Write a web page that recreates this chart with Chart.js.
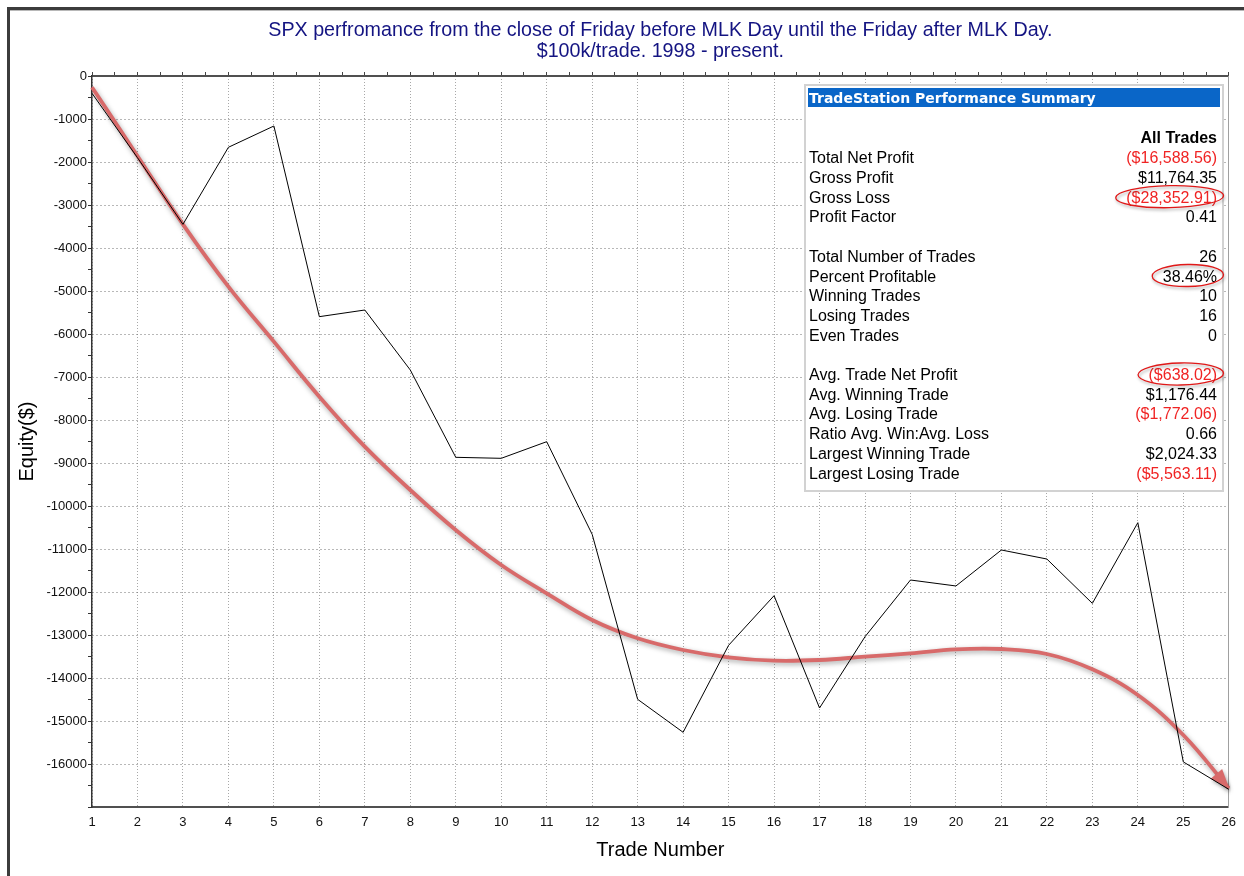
<!DOCTYPE html>
<html>
<head>
<meta charset="utf-8">
<script src="https://cdn.jsdelivr.net/npm/chart.js@4.4.1/dist/chart.umd.min.js"></script>
<style>
html,body{margin:0;padding:0;background:#fff;}
#wrap{width:1244px;height:876px;position:relative;overflow:hidden;}
canvas{display:block;}
</style>
</head>
<body>
<div id="wrap"><canvas id="c" width="1244" height="876"></canvas></div>
<script>
// ---------- DATA ----------
const trades = [1,2,3,4,5,6,7,8,9,10,11,12,13,14,15,16,17,18,19,20,21,22,23,24,25,26];
const equity = [-402,-1900,-3450,-1658,-1163,-5597,-5442,-6837,-8868,-8891,-8504,-10660,-14496,-15263,-13240,-12086,-14698,-13040,-11721,-11860,-11023,-11233,-12264,-10388,-15951,-16588.56];
const trend  = [-263,-1860,-3450,-4899,-6178,-7457,-8620,-9628,-10558,-11372,-12031,-12651,-13077,-13349,-13519,-13597,-13581,-13504,-13426,-13333,-13326,-13442,-13798,-14395,-15326,-16566];
const yMin = -17000, yMax = 0, yMinorStep = 500, yLabelStep = 1000;
const titleLines = ['SPX perfromance from the close of Friday before MLK Day until the Friday after MLK Day.', '$100k/trade. 1998 - present.'];
const xTitle = 'Trade Number';
const yTitle = 'Equity($)';
const summaryTitle = 'TradeStation Performance Summary';
const summaryColumn = 'All Trades';
const summaryLabels = ['Total Net Profit','Gross Profit','Gross Loss','Profit Factor','','Total Number of Trades','Percent Profitable','Winning Trades','Losing Trades','Even Trades','','Avg. Trade Net Profit','Avg. Winning Trade','Avg. Losing Trade','Ratio Avg. Win:Avg. Loss','Largest Winning Trade','Largest Losing Trade'];
const summaryValues = ['($16,588.56)','$11,764.35','($28,352.91)','0.41','','26','38.46%','10','16','0','','($638.02)','$1,176.44','($1,772.06)','0.66','$2,024.33','($5,563.11)'];
const circledRows = [2, 6, 11];

// ---------- STYLE ----------
const FONT = "'Liberation Sans', Arial, sans-serif";
const TITLE_COLOR = '#141482';
const RED_TEXT = '#f02424';
const TREND_COLOR = '#d86a6a';

const framePlugin = {
  id: 'frame',
  beforeDraw(chart) {
    const ctx = chart.ctx;
    ctx.save();
    ctx.fillStyle = '#fff';
    ctx.fillRect(0, 0, chart.width, chart.height);
    ctx.fillStyle = '#3c3c3c';
    ctx.fillRect(7, 7, chart.width - 7, 3);
    ctx.fillRect(7, 7, 3, chart.height - 7);
    ctx.fillStyle = '#b8b8b8';
    ctx.fillRect(10, 10, chart.width - 10, 1);
    // title
    const ca = chart.chartArea;
    const cx = (ca.left + ca.right) / 2;
    ctx.fillStyle = TITLE_COLOR;
    ctx.font = '19.7px ' + FONT;
    ctx.textAlign = 'center';
    ctx.textBaseline = 'alphabetic';
    titleLines.forEach((t, i) => ctx.fillText(t, cx, 36 + i * 21));
    ctx.restore();
  }
};

const shadowPlugin = {
  id: 'trendShadow',
  beforeDatasetDraw(chart, args) {
    if (args.index !== 1) return;
    const ctx = chart.ctx;
    ctx.save();
    ctx.shadowColor = 'rgba(0,0,0,0.35)';
    ctx.shadowBlur = 5;
    ctx.shadowOffsetX = 1;
    ctx.shadowOffsetY = 2;
  },
  afterDatasetDraw(chart, args) {
    if (args.index !== 1) return;
    const ctx = chart.ctx;
    ctx.restore();
    // arrow head at end of trend curve
    const pts = chart.getDatasetMeta(1).data;
    const last = pts[pts.length - 1];
    let fx = (last.cp1x !== undefined) ? last.cp1x : pts[pts.length - 2].x;
    let fy = (last.cp1y !== undefined) ? last.cp1y : pts[pts.length - 2].y;
    let dx = last.x - fx, dy = last.y - fy;
    const len = Math.hypot(dx, dy) || 1;
    dx /= len; dy /= len;
    const L = 19, W = 7.5;
    const bx = last.x - dx * L, by = last.y - dy * L;
    ctx.save();
    ctx.shadowColor = 'rgba(0,0,0,0.35)';
    ctx.shadowBlur = 4;
    ctx.shadowOffsetX = 1;
    ctx.shadowOffsetY = 2;
    ctx.fillStyle = TREND_COLOR;
    ctx.beginPath();
    ctx.moveTo(last.x + dx * 1, last.y + dy * 1);
    ctx.lineTo(bx - dy * W, by + dx * W);
    ctx.lineTo(bx + dy * W, by - dx * W);
    ctx.closePath();
    ctx.fill();
    ctx.restore();
  }
};

const tablePlugin = {
  id: 'summary',
  afterDraw(chart) {
    const ctx = chart.ctx;
    const bx = 805, by = 85, bw = 418, bh = 406;
    const left = 809, right = 1217;
    ctx.save();
    ctx.fillStyle = '#fff';
    ctx.fillRect(bx, by, bw, bh);
    ctx.strokeStyle = '#d2d2d2';
    ctx.lineWidth = 2;
    ctx.strokeRect(bx, by, bw, bh);
    // header
    ctx.fillStyle = '#0a66c8';
    ctx.fillRect(bx + 3, by + 3, bw - 6, 19);
    ctx.fillStyle = '#fff';
    ctx.font = "bold 14px 'DejaVu Sans', sans-serif";
    ctx.textAlign = 'left';
    ctx.textBaseline = 'alphabetic';
    ctx.fillText(summaryTitle, left, 102.5);
    // column header
    ctx.fillStyle = '#000';
    ctx.font = 'bold 16px ' + FONT;
    ctx.textAlign = 'right';
    ctx.fillText(summaryColumn, right, 142.7);
    ctx.font = '16px ' + FONT;
    summaryLabels.forEach((lab, i) => {
      const y = 163.3 + 19.7 * i;
      if (lab) {
        ctx.fillStyle = '#000';
        ctx.textAlign = 'left';
        ctx.fillText(lab, left, y);
      }
      const v = summaryValues[i];
      if (v) {
        ctx.fillStyle = v.charAt(0) === '(' ? RED_TEXT : '#000';
        ctx.textAlign = 'right';
        ctx.fillText(v, right, y);
      }
    });
    // ellipses
    ctx.strokeStyle = '#e01818';
    ctx.lineWidth = 1.3;
    ctx.shadowColor = 'rgba(0,0,0,0.35)';
    ctx.shadowBlur = 3;
    ctx.shadowOffsetX = 1;
    ctx.shadowOffsetY = 2;
    circledRows.forEach(i => {
      const y = 163.3 + 19.7 * i;
      const w = ctx.measureText(summaryValues[i]).width;
      const cx = right - w / 2 - 2;
      ctx.beginPath();
      ctx.ellipse(cx, y - 6, w / 2 + 8.5, 11, -0.02, 0, Math.PI * 2);
      ctx.stroke();
    });
    ctx.restore();
  }
};

const ctx = document.getElementById('c').getContext('2d');
new Chart(ctx, {
  type: 'line',
  data: {
    labels: trades,
    datasets: [
      { label: 'Equity', data: equity, borderColor: '#000', borderWidth: 1, pointRadius: 0, tension: 0, fill: false },
      { label: 'Trend', data: trend, borderColor: TREND_COLOR, borderWidth: 3.8, pointRadius: 0, tension: 0.4, fill: false, borderCapStyle: 'butt' }
    ]
  },
  options: {
    responsive: false,
    animation: false,
    devicePixelRatio: 1,
    layout: { padding: { left: 8, right: 14, top: 68, bottom: 9 } },
    plugins: { legend: { display: false }, tooltip: { enabled: false }, title: { display: false } },
    scales: {
      x: {
        type: 'category', position: 'bottom', offset: false,
        grid: { color: '#a8a8a8', drawTicks: false, lineWidth: 1 },
        border: { display: true, color: '#505050', width: 2, dash: [1, 2] },
        ticks: { autoSkip: false, maxRotation: 0, padding: 8, color: '#111', font: { family: FONT, size: 13 } },
        title: { display: true, text: xTitle, color: '#000', font: { family: FONT, size: 20 }, padding: { top: 0, bottom: 5 } },
        afterFit(s) { s.height = 60; }
      },
      x2: {
        type: 'linear', position: 'top', min: 1, max: 26,
        ticks: { display: false, stepSize: 0.5, autoSkip: false },
        grid: { drawOnChartArea: false, drawTicks: true, tickLength: 4, color: '#444', tickColor: '#444' },
        border: { display: true, color: '#505050', width: 2 },
        afterFit(s) { s.height = 8; }
      },
      y: {
        type: 'linear', position: 'left', min: yMin, max: yMax,
        ticks: {
          stepSize: yMinorStep, autoSkip: false, padding: 1, color: '#111',
          font: { family: FONT, size: 13 },
          callback: (v) => (v % yLabelStep === 0 && v > yMin) ? String(v) : ''
        },
        grid: {
          color: (c) => (c.tick && c.tick.value % yLabelStep === 0) ? '#707070' : 'rgba(0,0,0,0)',
          tickColor: '#333', tickLength: 4, drawTicks: true, lineWidth: 1
        },
        border: { display: true, color: '#333', width: 1.5, dash: [1, 3] },
        title: { display: true, text: yTitle, color: '#000', font: { family: FONT, size: 20 }, padding: { top: 7, bottom: 0 } },
        afterFit(s) { s.width = 84; }
      },
      y2: {
        type: 'linear', position: 'right', min: yMin, max: yMax,
        ticks: { display: false },
        grid: { drawOnChartArea: false, drawTicks: false },
        border: { display: true, color: '#a0a0a0', width: 1 },
        afterFit(s) { s.width = 0; }
      }
    }
  },
  plugins: [framePlugin, shadowPlugin, tablePlugin]
});
</script>
</body>
</html>
